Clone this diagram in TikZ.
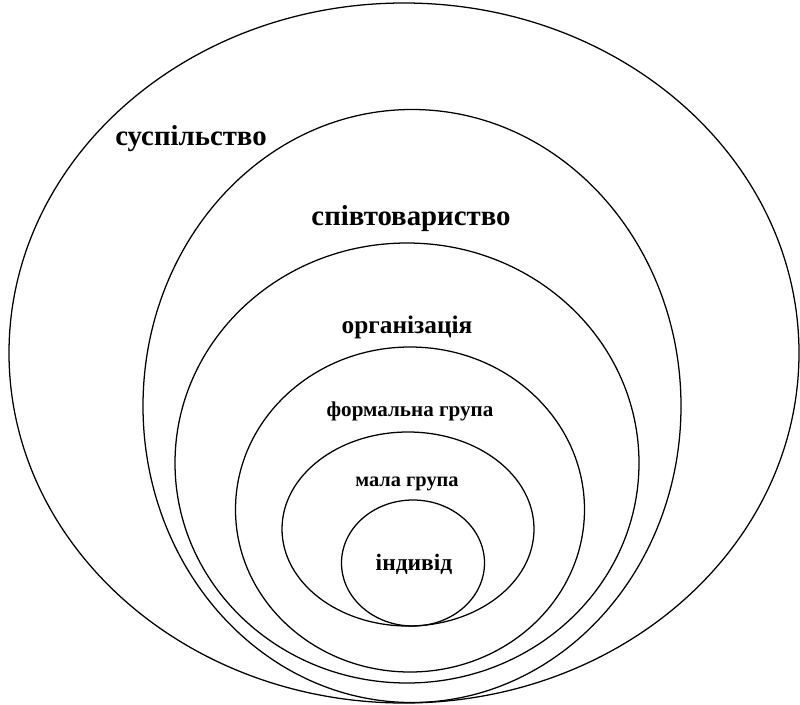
\documentclass[tikz,border=0pt]{standalone}
\usepackage{fontspec}
\setmainfont{Liberation Serif}
\usepackage{tikz}
\usetikzlibrary{shapes.geometric, positioning}

\begin{document}
\begin{tikzpicture}[
    ring/.style={draw=black, line width=0.9pt, ellipse, inner sep=0pt},
    lbl/.style={anchor=base, inner sep=0pt, font=\bfseries}
  ]
  \useasboundingbox (0,0) rectangle (20,-17.6);

  % Nested levels
  \node[ring, minimum width=19.75cm, minimum height=17.5cm] (society) at (10.1, -8.825) {};
  \node[ring, minimum width=13.45cm, minimum height=14.825cm] (community) at (10.3, -10.15) {};
  \node[ring, minimum width=11.6cm, minimum height=11cm] (organisation) at (10.175, -11.575) {};
  \node[ring, minimum width=8.725cm, minimum height=8.125cm] (formal) at (10.25, -12.7375) {};
  \node[ring, minimum width=6.3cm, minimum height=4.85cm] (small) at (10.2, -13.225) {};
  \node[ring, minimum width=3.575cm, minimum height=3.15cm] (person) at (10.325, -14.075) {};

  % Labels
  \node[lbl, font=\fontsize{20.5}{24}\bfseries] (societyname) at (4.775, -3.625) {суспільство};
  \node[lbl, font=\fontsize{20.5}{24}\bfseries] (communityname) at (10.275, -5.625) {співтовариство};
  \node[lbl, font=\fontsize{18}{22}\bfseries] (organisationname) at (10.175, -8.325) {організація};
  \node[lbl, font=\fontsize{15}{18}\bfseries] (formalname) at (10.25, -10.4) {формальна група};
  \node[lbl, font=\fontsize{14.5}{17}\bfseries] (smallname) at (10.175, -12.15) {мала група};
  \node[lbl, font=\fontsize{16.7}{20}\bfseries] (personname) at (10.35, -14.25) {індивід};
\end{tikzpicture}
\end{document}
